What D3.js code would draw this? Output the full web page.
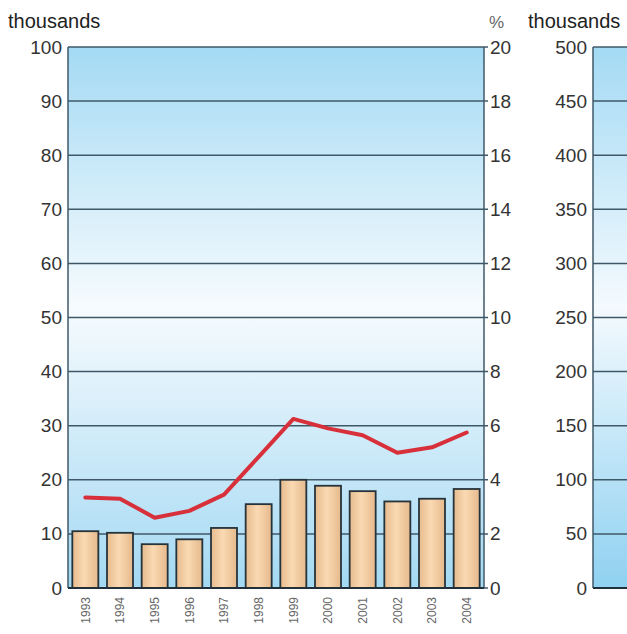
<!DOCTYPE html>
<html><head><meta charset="utf-8">
<script src="https://cdn.jsdelivr.net/npm/d3@7"></script>
<style>body{margin:0;background:#fff;}svg{display:block;font-family:"Liberation Sans",Arial,sans-serif;}</style>
</head><body>
<svg id="c" width="627" height="634"></svg>
<script>
const years = ["1993","1994","1995","1996","1997","1998","1999","2000","2001","2002","2003","2004"];
const barValues = [10.5,10.2,8.1,9.0,11.1,15.5,20.0,18.9,17.9,16.0,16.5,18.3];
const pctValues = [3.35,3.3,2.6,2.85,3.45,4.85,6.25,5.9,5.65,5.0,5.2,5.75];
const leftTicks = [0,10,20,30,40,50,60,70,80,90,100];
const pctTicks = [0,2,4,6,8,10,12,14,16,18,20];
const rightTicks = [0,50,100,150,200,250,300,350,400,450,500];

(function(){
const svg = d3.select("#c");
const yTop = 47, yBot = 588;
const L = {x0:68, x1:484};
const R = {x0:593, x1:640};

const defs = svg.append("defs");
const bg = defs.append("linearGradient").attr("id","bg").attr("x1",0).attr("y1",0).attr("x2",0).attr("y2",1);
bg.append("stop").attr("offset","0%").attr("stop-color","#a4daf4");
bg.append("stop").attr("offset","48%").attr("stop-color","#f6fbfe");
bg.append("stop").attr("offset","100%").attr("stop-color","#a4d9f3");
const bg2 = defs.append("linearGradient").attr("id","bg2").attr("x1",0).attr("y1",0).attr("x2",0).attr("y2",1);
bg2.append("stop").attr("offset","0%").attr("stop-color","#a4daf4");
bg2.append("stop").attr("offset","48%").attr("stop-color","#f4fafe");
bg2.append("stop").attr("offset","100%").attr("stop-color","#8fd1f1");
const bar = defs.append("linearGradient").attr("id","bar").attr("x1",0).attr("y1",0).attr("x2",1).attr("y2",0);
bar.append("stop").attr("offset","0%").attr("stop-color","#e6bb8e");
bar.append("stop").attr("offset","45%").attr("stop-color","#fad9b2");
bar.append("stop").attr("offset","100%").attr("stop-color","#e5b98c");

const y = d3.scaleLinear().domain([0,100]).range([yBot,yTop]);
const yp = d3.scaleLinear().domain([0,20]).range([yBot,yTop]);
const yr = d3.scaleLinear().domain([0,500]).range([yBot,yTop]);
const x = d3.scaleBand().domain(years).range([L.x0,L.x1]).paddingInner(0.25).paddingOuter(0.125);

const gridCol = "#3f5868";
const font = "Liberation Sans, Arial, sans-serif";
const labSize = 19;

// Left panel
svg.append("rect").attr("x",L.x0).attr("y",yTop).attr("width",L.x1-L.x0).attr("height",yBot-yTop).attr("fill","url(#bg)");
svg.append("g").selectAll("line").data(leftTicks).join("line")
  .attr("x1",L.x0).attr("x2",L.x1+4).attr("y1",d=>y(d)).attr("y2",d=>y(d))
  .attr("stroke",gridCol).attr("stroke-width",1.5);

svg.append("g").selectAll("rect").data(years).join("rect")
  .attr("x",d=>x(d)).attr("width",x.bandwidth())
  .attr("y",(d,i)=>y(barValues[i])).attr("height",(d,i)=>yBot-y(barValues[i]))
  .attr("fill","url(#bar)").attr("stroke","#26333a").attr("stroke-width",1.8);

const line = d3.line().x((d,i)=>x(years[i])+x.bandwidth()/2).y(d=>yp(d));
svg.append("path").datum(pctValues).attr("d",line).attr("fill","none")
  .attr("stroke","#d8303a").attr("stroke-width",4).attr("stroke-linejoin","round").attr("stroke-linecap","round");

svg.append("line").attr("x1",L.x0).attr("x2",L.x0).attr("y1",yTop).attr("y2",yBot).attr("stroke",gridCol).attr("stroke-width",1.5);
svg.append("line").attr("x1",L.x1).attr("x2",L.x1).attr("y1",yTop).attr("y2",yBot).attr("stroke",gridCol).attr("stroke-width",1.5);
svg.append("line").attr("x1",L.x0).attr("x2",L.x1).attr("y1",yBot).attr("y2",yBot).attr("stroke","#22303a").attr("stroke-width",2.2);

const gL = svg.append("g").attr("transform",`translate(${L.x0},0)`).call(d3.axisLeft(y).tickValues(leftTicks).tickSize(0).tickPadding(6));
gL.select(".domain").remove();
gL.selectAll("text").attr("font-size",labSize).attr("fill","#333").attr("font-family",font);

const gP = svg.append("g").attr("transform",`translate(${L.x1},0)`).call(d3.axisRight(yp).tickValues(pctTicks).tickSize(0).tickPadding(6));
gP.select(".domain").remove();
gP.selectAll("text").attr("font-size",labSize).attr("fill","#333").attr("font-family",font);

const gX = svg.append("g").attr("transform",`translate(0,${yBot})`).call(d3.axisBottom(x).tickSize(0).tickPadding(0));
gX.select(".domain").remove();
gX.selectAll("text").attr("transform","rotate(-90)").attr("text-anchor","end")
  .attr("x",-9).attr("y",0).attr("dy","0.35em")
  .attr("font-size",12).attr("fill","#666").attr("font-family",font);

// Right panel
svg.append("rect").attr("x",R.x0).attr("y",yTop).attr("width",R.x1-R.x0).attr("height",yBot-yTop).attr("fill","url(#bg2)");
svg.append("g").selectAll("line").data(rightTicks).join("line")
  .attr("x1",R.x0).attr("x2",R.x1).attr("y1",d=>yr(d)).attr("y2",d=>yr(d))
  .attr("stroke",gridCol).attr("stroke-width",1.5);
svg.append("line").attr("x1",R.x0).attr("x2",R.x0).attr("y1",yTop).attr("y2",yBot).attr("stroke",gridCol).attr("stroke-width",1.5);
svg.append("line").attr("x1",R.x0).attr("x2",R.x1).attr("y1",yBot).attr("y2",yBot).attr("stroke","#22303a").attr("stroke-width",2);
const gR = svg.append("g").attr("transform",`translate(${R.x0},0)`).call(d3.axisLeft(yr).tickValues(rightTicks).tickSize(0).tickPadding(6));
gR.select(".domain").remove();
gR.selectAll("text").attr("font-size",labSize).attr("fill","#333").attr("font-family",font);

// Titles
svg.append("text").attr("x",8).attr("y",28).attr("font-size",20).attr("fill","#222").text("thousands");
svg.append("text").attr("x",489).attr("y",28).attr("font-size",17).attr("fill","#666").text("%");
svg.append("text").attr("x",528).attr("y",28).attr("font-size",20).attr("fill","#222").text("thousands");
})();
</script>
</body></html>
